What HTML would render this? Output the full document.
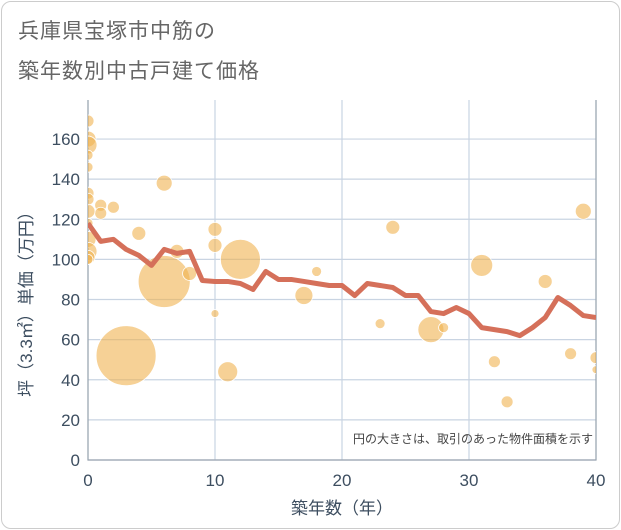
<!DOCTYPE html>
<html><head><meta charset="utf-8"><style>
body{margin:0;background:#fff;font-family:"Liberation Sans","Noto Sans CJK JP",sans-serif}
#wrap{position:relative;width:621px;height:530px;overflow:hidden}
#frame{position:absolute;left:1px;top:1px;width:617px;height:526px;border:1px solid #ccc;border-radius:10px}
.t{position:absolute;left:18px;font-size:21px;color:#666;letter-spacing:1px}
</style></head><body><div id="wrap">
<div id="frame"></div>
<div class="t" style="top:15px">兵庫県宝塚市中筋の</div>
<div class="t" style="top:55px">築年数別中古戸建て価格</div>
<svg id="svg" width="621" height="530" style="position:absolute;left:0;top:0"></svg>
</div>
<script>
const lineYears=[0,1,2,3,4,5,6,7,8,9,10,11,12,13,14,15,16,17,18,19,20,21,22,23,24,25,26,27,28,29,30,31,32,33,34,35,36,37,38,39,40];
const lineValues=[118,109,110,105,102,97,105,103,104,89.5,89,89,88,85,94,90,90,89,88,87,87,82,88,87,86,82,82,74,73,76,73,66,65,64,62,66,71,81,77,72,71];
const bubbleX=[3,6,12,27,31,11,17,6,10,10,4,24,36,39,32,33,38,40,40,23,18,10,28,7,8,1,1,2,0,0,0,0,0,0,0,0,0,0,0,0,0];
const bubbleY=[52,89,100,65,97,44,82,138,115,107,113,116,89,124,49,29,53,51,45,68,94,73,66,104,93,127,123,126,169,160,157,152,146,133,130,124,118,110,104,101,100];
const bubbleR=[30,26,20,13,11,10,9,8,7,7,7,7,7,8,6,6,6,6,4,5,5,4,5,7,7,6,6,6,6,8,9,5,5,6,6,7,5,8,9,7,5];
const xTicks=[0,10,20,30,40];
const yTicks=[0,20,40,60,80,100,120,140,160];
const X=v=>88+v*12.7, Y=v=>460-v*2.006;
const svg=document.getElementById('svg'),NS='http://www.w3.org/2000/svg';
function mk(t,a,p){const e=document.createElementNS(NS,t);for(const k in a)e.setAttribute(k,a[k]);(p||svg).appendChild(e);return e;}
const clip=mk('clipPath',{id:'c'});mk('rect',{x:88,y:100,width:508,height:360},clip);
yTicks.forEach(v=>{const l=mk('line',{x1:88,x2:596,y1:Y(v),y2:Y(v),stroke:'#c9d4e2','stroke-width':1.2});

const t=mk('text',{x:80,y:Y(v)+6,'text-anchor':'end','font-size':17,fill:'#3d4e60'});t.textContent=v;
});
xTicks.forEach(v=>{const l=mk('line',{x1:X(v),x2:X(v),y1:100,y2:460,stroke:'#c9d4e2','stroke-width':1.2});

const t=mk('text',{x:X(v),y:486,'text-anchor':'middle','font-size':17,fill:'#3d4e60'});t.textContent=v;
});
const ax=mk('path',{d:'M88 100V460H596V100',fill:'none',stroke:'#9aa5b0','stroke-width':1.2});

const g=mk('g',{'clip-path':'url(#c)'});
bubbleX.forEach((x,i)=>{const c=mk('circle',{cx:X(x),cy:Y(bubbleY[i]),r:bubbleR[i],fill:'#f0b350','fill-opacity':0.6,stroke:'#fff','stroke-width':0.8},g);
});
const pl=mk('polyline',{points:lineYears.map((x,i)=>X(x)+','+Y(lineValues[i])).join(' '),fill:'none',stroke:'#d5705a','stroke-width':5,'stroke-linejoin':'round'},g);

const n=mk('text',{x:593,y:443,'text-anchor':'end','font-size':12,fill:'#444'});n.textContent='円の大きさは、取引のあった物件面積を示す';

const xt=mk('text',{x:342,y:514,'text-anchor':'middle','font-size':17,fill:'#3d4e60'});xt.textContent='築年数（年）';

const yt=mk('text',{x:0,y:0,'text-anchor':'middle','font-size':17,fill:'#3d4e60',transform:'translate(32,300) rotate(-90)'});yt.textContent='坪（3.3㎡）単価（万円）';

</script></body></html>
